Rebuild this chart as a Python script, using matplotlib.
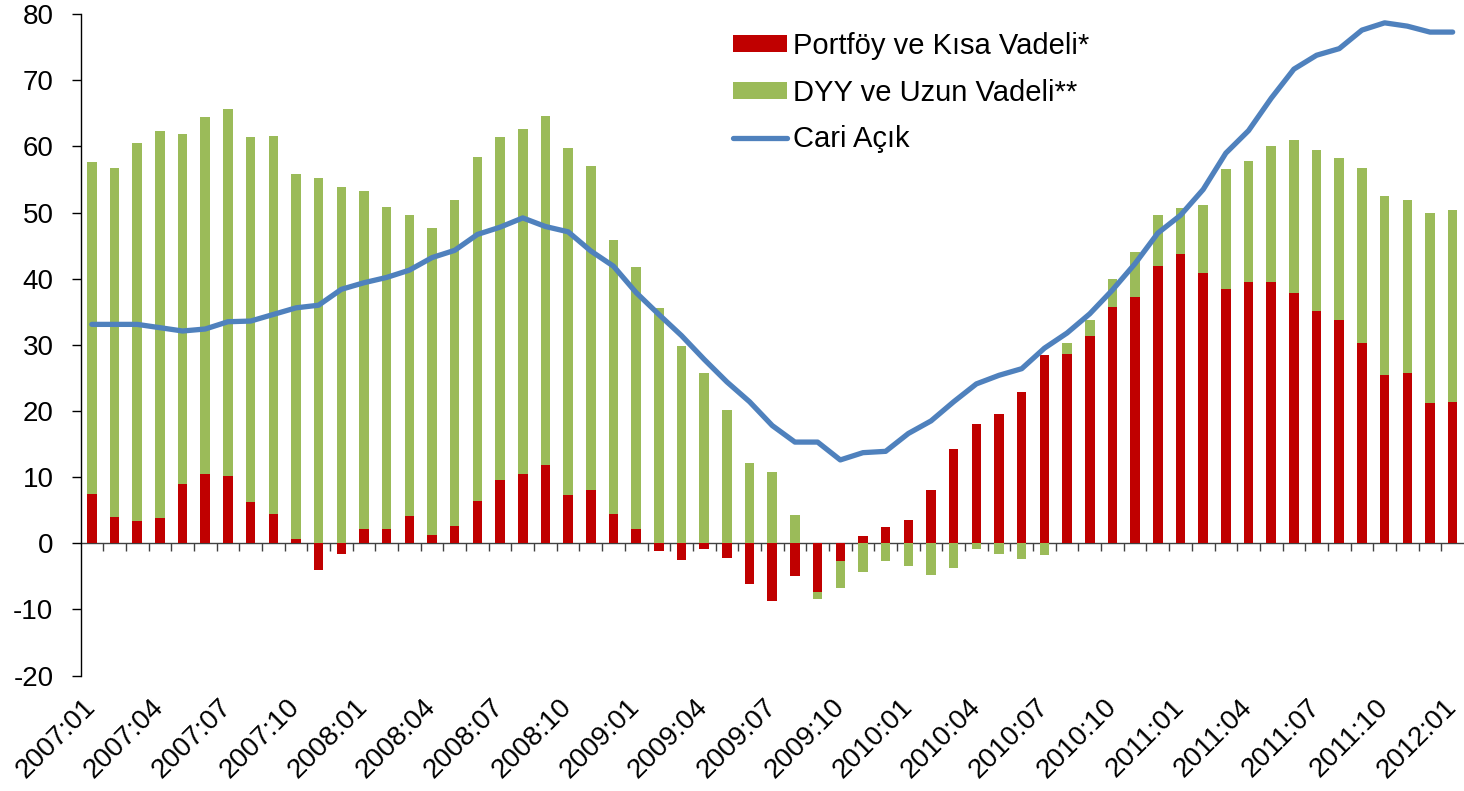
import numpy as np
import pandas as pd
import matplotlib
matplotlib.use("Agg")
import matplotlib.pyplot as plt

plt.rcParams['font.family'] = ['Liberation Sans', 'DejaVu Sans']
plt.rcParams['axes.unicode_minus'] = False

# months 2007:01 .. 2012:01
months = [p.strftime('%Y:%m') for p in pd.period_range('2007-01', '2012-01', freq='M')]

portfoy = [7.4, 3.9, 3.3, 3.8, 8.9, 10.5, 10.1, 6.2, 4.5, 0.6, -4.1, -1.6,
           2.2, 2.2, 4.1, 1.3, 2.6, 6.4, 9.5, 10.5, 11.9, 7.3, 8.1,
           4.5, 2.2, -1.1, -2.5, -0.9, -2.3, -6.2, -8.7, -5.0, -7.3, -2.7, 1.1,
           2.5, 3.5, 8.0, 14.2, 18.0, 19.5, 22.9, 28.5, 28.6, 31.4, 35.8, 37.3, 42.0,
           43.7, 40.8, 38.4, 39.5, 39.5, 37.9, 35.1, 33.7, 30.3, 25.4, 25.8, 21.2,
           21.4]

dyy = [50.3, 52.8, 57.3, 58.6, 53.0, 54.0, 55.5, 55.3, 57.1, 55.2, 55.2, 53.9,
       51.1, 48.6, 45.6, 46.4, 49.3, 52.0, 51.9, 52.2, 52.7, 52.5, 49.0,
       41.3, 39.6, 35.6, 29.8, 25.7, 20.2, 12.2, 10.8, 4.2, -1.2, -4.1, -4.3,
       -2.7, -3.4, -4.8, -3.7, -0.9, -1.6, -2.4, -1.8, 1.7, 2.3, 4.2, 6.7, 7.6,
       7.0, 10.4, 18.2, 18.3, 20.5, 23.1, 24.3, 24.5, 26.5, 27.1, 26.1, 28.7,
       29.0]

cari_acik = [33.1, 33.1, 33.1, 32.6, 32.1, 32.4, 33.5, 33.6, 34.6, 35.6, 36.0, 38.4,
             39.4, 40.2, 41.3, 43.2, 44.3, 46.7, 47.8, 49.2, 47.9, 47.1, 44.2,
             41.9, 37.9, 34.6, 31.4, 27.8, 24.4, 21.4, 17.8, 15.3, 15.3, 12.6, 13.7,
             13.9, 16.6, 18.5, 21.4, 24.1, 25.4, 26.4, 29.5, 31.8, 34.7, 38.3, 42.3, 46.9,
             49.6, 53.5, 59.0, 62.4, 67.3, 71.7, 73.8, 74.8, 77.6, 78.7, 78.2, 77.3,
             77.3]

red = '#C00000'
green = '#9BBB59'
blue = '#4F81BD'

x = np.arange(len(months))
p = np.array(portfoy)
d = np.array(dyy)
# Excel-style stacking: positives stack up, negatives stack down
d_bottom = np.where(np.sign(p) == np.sign(d), p, 0)

fig = plt.figure(figsize=(14.64, 7.91), dpi=100)
ax = fig.add_axes([80.5 / 1464, 0.146, 1383.5 / 1464, 0.836])

b1 = ax.bar(x, p, width=0.42, color=red, label='Portföy ve Kısa Vadeli*', zorder=2)
b2 = ax.bar(x, d, width=0.42, bottom=d_bottom, color=green, label='DYY ve Uzun Vadeli**', zorder=2)
ln, = ax.plot(x, cari_acik, color=blue, linewidth=3.8, solid_capstyle='round',
              solid_joinstyle='round', label='Cari Açık', zorder=3)

ax.set_xlim(-0.5, len(months) - 0.5)
ax.set_ylim(-20, 80)
ax.set_yticks(np.arange(-20, 81, 10))
ax.tick_params(axis='y', direction='out', length=6.5, width=1.0, pad=13, labelsize=20)

for s in ['top', 'right', 'bottom']:
    ax.spines[s].set_visible(False)
ax.spines['left'].set_linewidth(1.0)

# date labels at the bottom of the plot
ax.set_xticks(x[::3])
ax.set_xticklabels(months[::3])
ax.tick_params(axis='x', length=0, pad=20, labelsize=20)
for lab in ax.get_xticklabels():
    lab.set_rotation(45)
    lab.set_ha('right')
    lab.set_va('center')
    lab.set_rotation_mode('anchor')

# zero line with month tick marks
zero_ax = ax.secondary_xaxis(0.2)
zero_ax.set_xticks(np.arange(0.5, len(months) - 1, 1.0))
zero_ax.set_xticklabels([])
zero_ax.tick_params(axis='x', direction='out', length=6, width=1.0, color='#404040')
zero_ax.spines['bottom'].set_color('#404040')
zero_ax.spines['bottom'].set_linewidth(1.0)

ax.legend(handles=[b1, b2, ln], loc='upper left',
          bbox_to_anchor=(733 / 1464, 1 - 32 / 791),
          bbox_transform=fig.transFigure, frameon=False, fontsize=21,
          handlelength=1.85, handleheight=0.55, handletextpad=0.2,
          labelspacing=0.64, borderpad=0, borderaxespad=0)

fig.savefig('out.png', dpi=100)
